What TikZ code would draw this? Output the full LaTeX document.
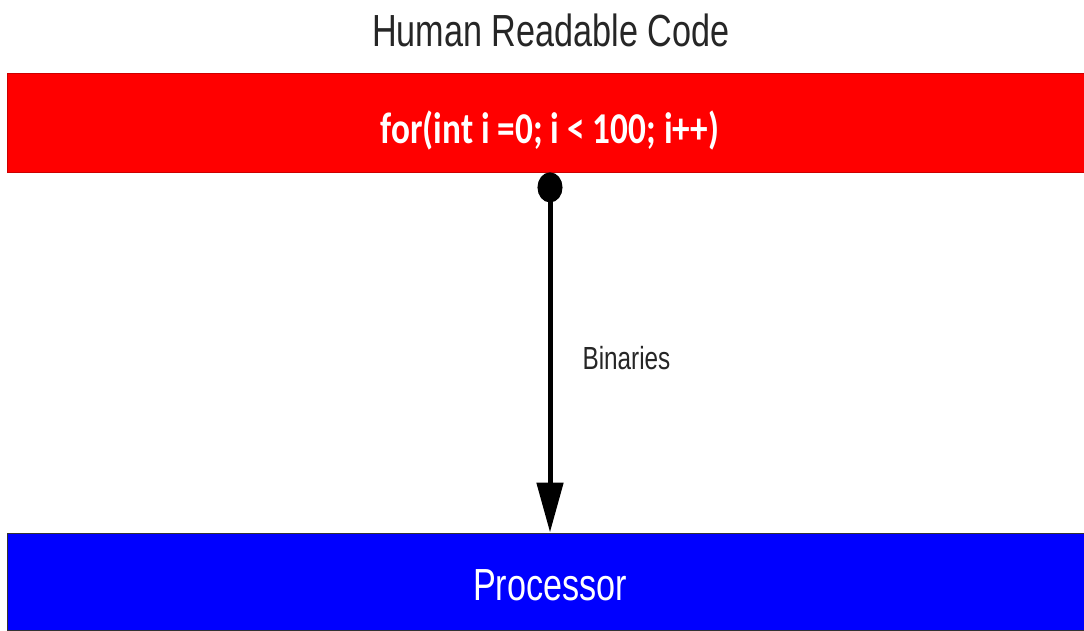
\documentclass[tikz,border=0pt]{standalone}
\usepackage{fontspec}
\setmainfont{Liberation Sans}
\newfontfamily\narrowsans[FakeStretch=0.76]{Liberation Sans}
\newfontfamily\codefont[FakeStretch=0.8]{Carlito Bold}
\usetikzlibrary{arrows.meta}
\definecolor{codered}{RGB}{255,0,0}
\definecolor{cpublue}{RGB}{0,0,255}
\tikzset{
  bar/.style={rectangle,inner sep=0pt,minimum width=1086pt,text=white},
  flow/.style={line width=5pt,{Ellipse[length=30pt,width=25pt]}-{Triangle[length=50pt,width=26pt]}}
}
\begin{document}
\begin{tikzpicture}[x=1pt,y=-1pt]
\useasboundingbox (0,0) rectangle (1084,630);
\node[anchor=base,text=black!85,font=\narrowsans\fontsize{45}{50}\selectfont] (title) at (551,46) {Human Readable Code};
\node[bar,fill=codered,draw=red!80!black,line width=0.8pt,text height=70.5pt,text depth=28.5pt,font=\codefont\fontsize{44}{50}\selectfont] (code) at (550,122.5) {for(int i =0; i < 100; i++)};
\node[bar,fill=cpublue,draw=black!80,line width=1pt,text height=67pt,text depth=30pt,font=\narrowsans\fontsize{45}{50}\selectfont] (cpu) at (550,581.5) {Processor};
\node[anchor=base west,text=black!85,font=\narrowsans\fontsize{32}{36}\selectfont] (bin) at (579,369) {Binaries};
\draw[flow] (code.south) -- (cpu.north);
\end{tikzpicture}
\end{document}
